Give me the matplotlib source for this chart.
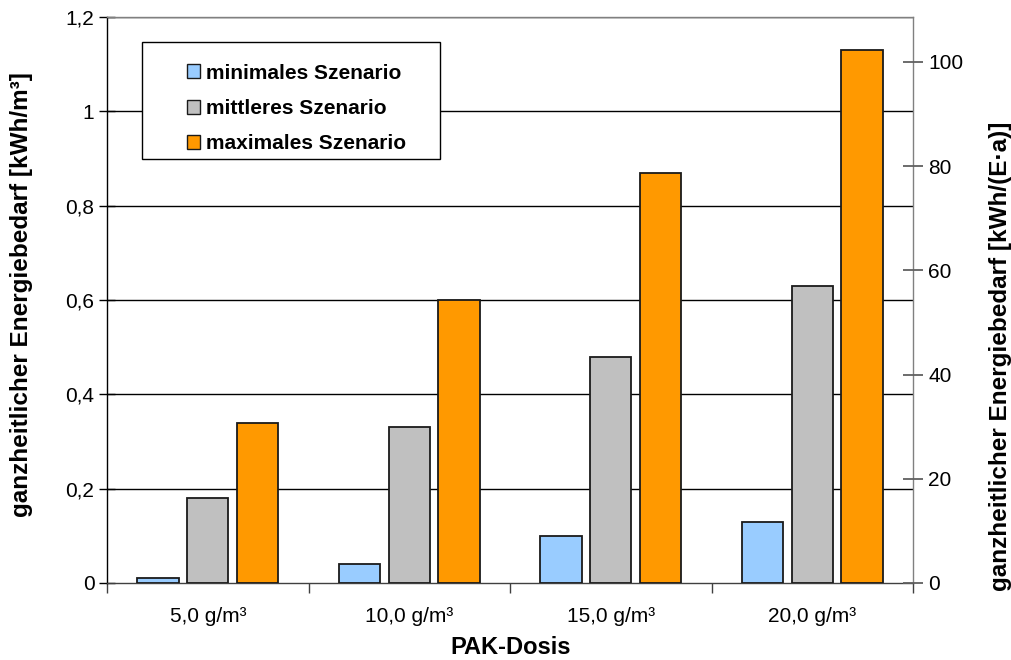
import matplotlib
matplotlib.use("Agg")
import matplotlib.pyplot as plt
import numpy as np
from matplotlib.patches import Patch, Rectangle

# Data
categories = ["5,0 g/m³", "10,0 g/m³", "15,0 g/m³", "20,0 g/m³"]
series_names = ["minimales Szenario", "mittleres Szenario", "maximales Szenario"]
minimal = [0.01, 0.04, 0.10, 0.13]
mittel = [0.18, 0.33, 0.48, 0.63]
maximal = [0.34, 0.60, 0.87, 1.13]
left_ticks = [0, 0.2, 0.4, 0.6, 0.8, 1.0, 1.2]
left_ticklabels = ["0", "0,2", "0,4", "0,6", "0,8", "1", "1,2"]
right_ticks = [0, 20, 40, 60, 80, 100]
# kWh/m³ -> kWh/(E·a)
per_capita_factor = 90.5

colors = ["#99CCFF", "#C0C0C0", "#FF9900"]

plt.rcParams["font.family"] = ["Liberation Sans", "DejaVu Sans"]

W, H = 1011, 660
fig = plt.figure(figsize=(W / 100, H / 100), dpi=100)
L, R, T, B = 107, 913, 17, 583
ax = fig.add_axes([L / W, 1 - B / H, (R - L) / W, (B - T) / H])

x = np.arange(len(categories))
bw = 0.205
off = 0.247
for i, (vals, name, c) in enumerate(zip([minimal, mittel, maximal], series_names, colors)):
    ax.bar(x + (i - 1) * off, vals, width=bw, color=c, edgecolor="#1a1a1a",
           linewidth=1.3, zorder=3, label=name)

ax.set_xlim(-0.5, len(categories) - 0.5)
ax.set_ylim(0, 1.2)
ax.set_yticks(left_ticks)
ax.set_yticklabels(left_ticklabels, fontsize=15)
for y in left_ticks[1:]:
    ax.axhline(y, color="#000000", linewidth=1.0, zorder=1)

ax.set_xticks(x)
ax.set_xticklabels(categories, fontsize=15)
ax.set_xticks(np.arange(-0.5, len(categories)), minor=True)
ax.tick_params(axis="x", which="major", length=0, pad=17)
ax.tick_params(axis="x", which="minor", length=7, width=1.0, color="#404040", direction="out")
ax.tick_params(axis="y", which="major", length=12, width=1.0, direction="inout", pad=3)

ax.spines["left"].set_color("#000000")
ax.spines["bottom"].set_color("#404040")
ax.spines["top"].set_color("#808080")
ax.spines["right"].set_color("#808080")
for s in ax.spines.values():
    s.set_linewidth(1.0)

ax2 = ax.twinx()
ax2.set_ylim(0, 1.2 * per_capita_factor)
ax2.set_yticks(right_ticks)
ax2.set_yticklabels([str(t) for t in right_ticks], fontsize=15)
ax2.tick_params(axis="y", length=14, width=1.3, color="#606060", direction="inout", pad=4)
for s in ax2.spines.values():
    s.set_visible(False)

# Axis titles
fig.text(22 / W, 1 - 295 / H, "ganzheitlicher Energiebedarf [kWh/m³]", rotation=90,
         ha="center", va="center", fontsize=17.5, fontweight="bold")
fig.text(1000 / W, 1 - 356 / H, "ganzheitlicher Energiebedarf [kWh/(E·a)]", rotation=90,
         ha="center", va="center", fontsize=17.5, fontweight="bold")
fig.text(511 / W, 1 - 648 / H, "PAK-Dosis", ha="center", va="center",
         fontsize=17, fontweight="bold")

# Legend box
box = Rectangle((142 / W, 1 - 159 / H), (440 - 142) / W, (159 - 42) / H,
                transform=fig.transFigure, facecolor="white", edgecolor="#000000",
                linewidth=1.0, zorder=5)
fig.patches.append(box)
handles = [Patch(facecolor=c, edgecolor="#1a1a1a", linewidth=1.0) for c in colors]
leg = fig.legend(handles, series_names, loc="upper left",
                 bbox_to_anchor=(168 / W, 1 - 45 / H), frameon=False,
                 prop={"size": 15, "weight": "bold"}, handlelength=0.65,
                 handleheight=0.65, handletextpad=0.25, labelspacing=0.78)
leg.set_zorder(6)

fig.savefig("out.png", dpi=100)
